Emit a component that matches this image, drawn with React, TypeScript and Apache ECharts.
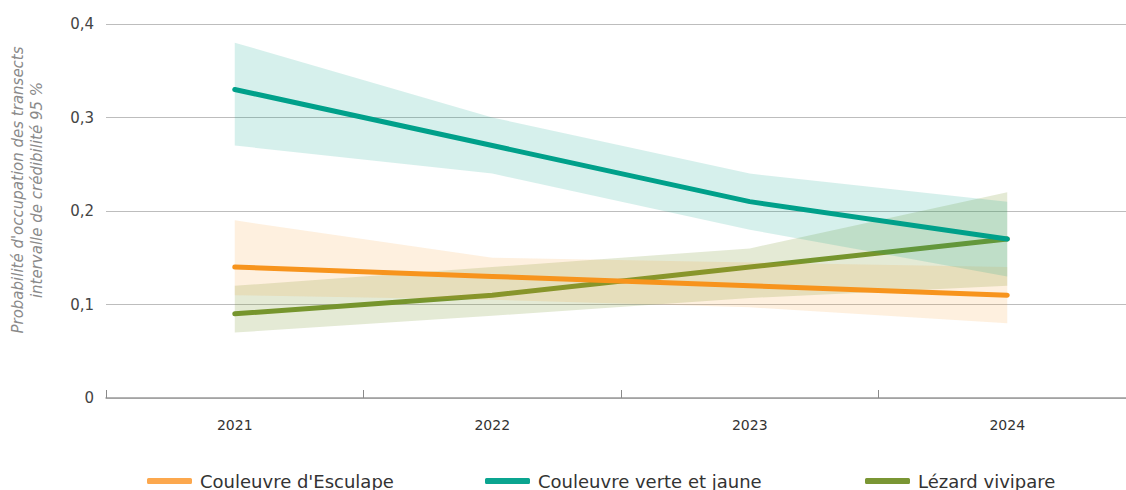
import React, { useEffect, useRef } from "react";
import * as echarts from "echarts";

const years = ["2021", "2022", "2023", "2024"];

const esculapeMean = [0.14, 0.13, 0.12, 0.11];
const esculapeLow = [0.11, 0.105, 0.097, 0.08];
const esculapeHigh = [0.19, 0.15, 0.145, 0.14];

const verteMean = [0.33, 0.27, 0.21, 0.17];
const verteLow = [0.27, 0.24, 0.18, 0.13];
const verteHigh = [0.38, 0.3, 0.24, 0.21];

const lezardMean = [0.09, 0.11, 0.14, 0.17];
const lezardLow = [0.07, 0.088, 0.107, 0.12];
const lezardHigh = [0.12, 0.14, 0.16, 0.22];

const names = ["Couleuvre d'Esculape", "Couleuvre verte et jaune", "Lézard vivipare"];
const lineColors = ["#f7941d", "#00a08a", "#76952e"];
const legendColors = ["#fca84e", "#0aa590", "#7a9634"];
const bandColors = [
  "rgba(247,148,29,0.14)",
  "rgba(0,160,138,0.16)",
  "rgba(118,149,46,0.20)",
];

const FONT = "DejaVu Sans";

function bandSeries(key: string, low: number[], high: number[], color: string, z: number) {
  return [
    {
      name: key + "-low",
      type: "line",
      stack: key,
      data: low,
      symbol: "none",
      lineStyle: { opacity: 0 },
      silent: true,
      z,
    },
    {
      name: key + "-band",
      type: "line",
      stack: key,
      data: high.map((h, i) => +(h - low[i]).toFixed(4)),
      symbol: "none",
      lineStyle: { opacity: 0 },
      areaStyle: { color, opacity: 1 },
      silent: true,
      z,
    },
  ];
}

function lineSeries(name: string, data: number[], color: string, z: number) {
  return {
    name,
    type: "line",
    data,
    symbol: "none",
    lineStyle: { color, width: 5, cap: "round", join: "round" },
    itemStyle: { color },
    z,
  };
}

export default function App() {
  const ref = useRef<HTMLDivElement>(null);
  useEffect(() => {
    if (!ref.current) return;
    const chart = echarts.init(ref.current, null, { renderer: "svg" });
    const legendLefts = [142, 480, 860];
    chart.setOption({
      animation: false,
      grid: { left: 106, top: 24, height: 374, width: 1030, containLabel: false },
      xAxis: {
        type: "category",
        data: years,
        boundaryGap: true,
        axisLine: { show: true, lineStyle: { color: "#9a9a9a", width: 1.5 } },
        axisTick: { show: true, inside: true, length: 8, lineStyle: { color: "#8a8a8a" } },
        axisLabel: { color: "#333", fontSize: 14, fontFamily: FONT, margin: 20 },
        splitLine: { show: false },
      },
      yAxis: {
        type: "value",
        min: 0,
        max: 0.4,
        interval: 0.1,
        axisLine: { show: false },
        axisTick: { show: false },
        axisLabel: {
          color: "#444",
          fontSize: 15,
          fontFamily: FONT,
          margin: 12,
          formatter: (v: number) => (v === 0 ? "0" : v.toFixed(1).replace(".", ",")),
        },
        splitLine: { show: true, lineStyle: { color: "#bdbdbd", width: 1.2 } },
      },
      legend: names.map((n, i) => ({
        data: [{ name: n, itemStyle: { color: legendColors[i] } }],
        left: legendLefts[i],
        top: 467,
        icon: "roundRect",
        itemWidth: 45,
        itemHeight: 6,
        selectedMode: false,
        textStyle: { color: "#333", fontSize: 18, fontFamily: FONT, padding: [0, 0, 0, 3] },
      })),
      graphic: [
        {
          type: "text",
          x: 27,
          y: 190,
          rotation: Math.PI / 2,
          style: {
            text: "Probabilité d'occupation des transects\nintervalle de crédibilité 95 %",
            fill: "#8a8a8a",
            font: `italic 15px "${FONT}"`,
            align: "center",
            verticalAlign: "middle",
            lineHeight: 19,
          },
        },
      ],
      series: [
        lineSeries(names[2], lezardMean, lineColors[2], 1),
        ...bandSeries("lezard", lezardLow, lezardHigh, bandColors[2], 2),
        ...bandSeries("esculape", esculapeLow, esculapeHigh, bandColors[0], 2),
        ...bandSeries("verte", verteLow, verteHigh, bandColors[1], 2),
        lineSeries(names[0], esculapeMean, lineColors[0], 3),
        lineSeries(names[1], verteMean, lineColors[1], 3),
      ],
    });
    return () => chart.dispose();
  }, []);
  return (
    <div
      style={{
        position: "absolute",
        left: 0,
        top: 0,
        width: 1126,
        height: 490,
        overflow: "hidden",
      }}
    >
      <div ref={ref} style={{ width: 1150, height: 490 }} />
    </div>
  );
}
